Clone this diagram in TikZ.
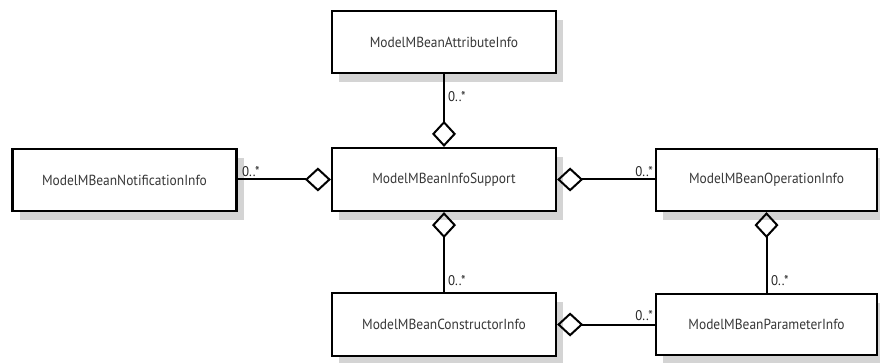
\documentclass[tikz,border=0pt]{standalone}
\usepackage{fontspec}
\setmainfont{PT Sans}[FakeStretch=0.92]
\usetikzlibrary{shadows,arrows.meta}
\tikzset{
  cls/.style={draw=black, line width=2.2pt, fill=white, minimum width=224pt, minimum height=62pt,
    inner sep=0pt, font=\fontsize{14.6}{17}\selectfont, text=black!78,
    drop shadow={shadow xshift=7pt, shadow yshift=-9pt, fill=black!17, opacity=1}},
  agg/.style={line width=2pt, {Diamond[open, length=26pt, width=24pt, line width=2pt]}-},
  lbl/.style={font=\fontsize{14}{16}\selectfont, inner sep=0pt, text=black!85}
}
\begin{document}
\begin{tikzpicture}[x=1pt,y=-1pt]
\useasboundingbox[fill=white] (0,0) rectangle (880,363);
\node[cls] (attr) at (444,42) {ModelMBeanAttributeInfo};
\node[cls] (notif) at (124.5,180) {ModelMBeanNotificationInfo};
\node[cls, minimum height=63pt] (sup) at (444,179.5) {ModelMBeanInfoSupport};
\node[cls, minimum width=221pt] (op) at (766.5,180) {ModelMBeanOperationInfo};
\node[cls, minimum height=63pt] (con) at (444,324.5) {ModelMBeanConstructorInfo};
\node[cls, minimum width=221pt, minimum height=61pt] (par) at (766.5,324.5) {ModelMBeanParameterInfo};

\draw[agg] (sup.north) -- (attr.south);
\draw[agg] (sup.west) -- (notif.east |- sup.west);
\draw[agg] (sup.east) -- (op.west |- sup.east);
\draw[agg] (sup.south) -- (con.north);
\draw[agg] (op.south) -- (par.north);
\draw[agg] (con.east) -- (par.west |- con.east);

\node[lbl, anchor=west] (l1) at (448,97) {0..*};
\node[lbl, anchor=south west] (l2) at (242,177) {0..*};
\node[lbl, anchor=south east] (l3) at (653,177) {0..*};
\node[lbl, anchor=west] (l4) at (448,281) {0..*};
\node[lbl, anchor=west] (l5) at (771,281) {0..*};
\node[lbl, anchor=south east] (l6) at (653,321) {0..*};
\end{tikzpicture}
\end{document}
